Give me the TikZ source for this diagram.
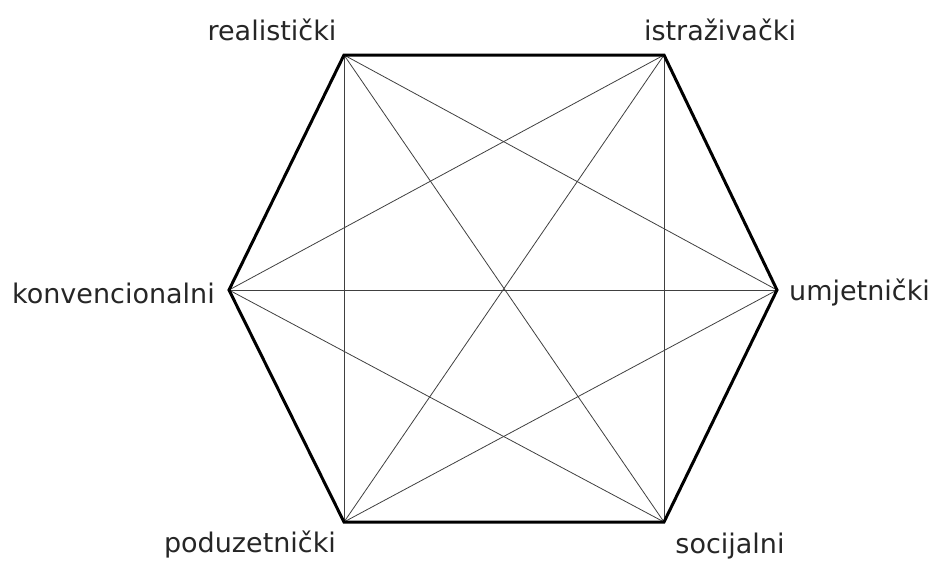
\documentclass[tikz,border=0pt]{standalone}
\usepackage{fontspec}
\setmainfont{DejaVu Sans}
\usepackage{tikz}

\tikzset{
    rub/.style={line width=3pt,line join=miter},
    dijag/.style={line width=0.8pt,black!75},
    tip/.style={font=\fontsize{27}{32}\selectfont,inner sep=0pt,text=black!85}
}

\begin{document}
\begin{tikzpicture}[x=1pt,y=-1pt]
        \useasboundingbox (0,0) rectangle (930,563);
        % vrhovi sestokuta
        \coordinate (R) at (344,55);
        \coordinate (I) at (664,55);
        \coordinate (U) at (777,290);
        \coordinate (S) at (664,522);
        \coordinate (P) at (344,522);
        \coordinate (K) at (229,290);
        % dijagonale
        \foreach \a/\b in {R/U,R/S,R/P,I/S,I/P,I/K,U/P,U/K,S/K}{
            \draw[dijag] (\a) -- (\b);
        }
        \draw[rub] (R) -- (I) -- (U) -- (S) -- (P) -- (K) -- cycle;
        % oznake
        \node[tip] (realisticki) at (272,30) {realistički};
        \node[tip] (istrazivacki) at (720,30) {istraživački};
        \node[tip,anchor=east] (konvencionalni) at (215,293) {konvencionalni};
        \node[tip,anchor=west] (umjetnicki) at (789,293) {umjetnički};
        \node[tip] (poduzetnicki) at (250,545) {poduzetnički};
        \node[tip] (socijalni) at (730,546) {socijalni};
\end{tikzpicture}
\end{document}
